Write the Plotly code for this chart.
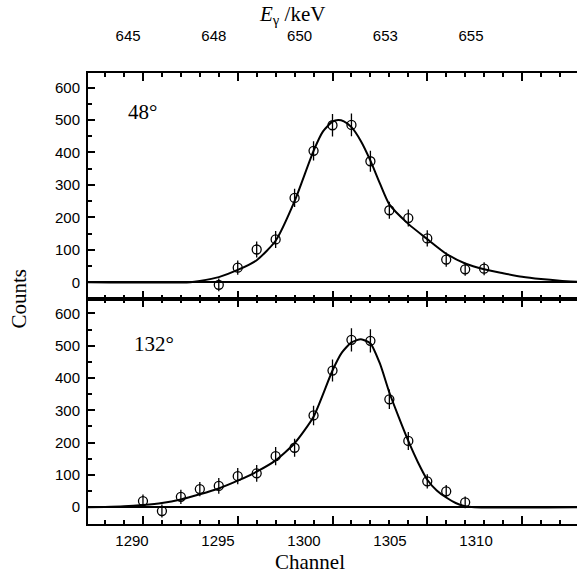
import plotly.graph_objects as go

# measured points, 48 degree detector (top panel)
ch48 = [1294, 1295, 1296, 1297, 1298, 1299, 1300, 1301, 1302, 1303, 1304, 1305, 1306, 1307, 1308]
cnt48 = [-8, 45, 101, 132, 260, 405, 484, 485, 373, 222, 198, 135, 70, 40, 42]
err48 = [20, 22, 25, 26, 28, 30, 35, 35, 32, 26, 26, 25, 22, 20, 20]

# fitted line shape, 48 degree
fit48_ch = [1287.1, 1292.5, 1293, 1294, 1295, 1296, 1297, 1298, 1299, 1299.5, 1300, 1300.3,
            1300.6, 1301, 1301.5, 1302, 1302.5, 1303, 1304, 1305, 1306, 1307, 1308, 1309,
            1310, 1311, 1312, 1312.9]
fit48 = [0, 0, 4, 16, 38, 68, 128, 250, 405, 465, 495, 500, 496, 478, 435, 375, 305, 240,
         180, 133, 88, 58, 40, 28, 17, 10, 5, 2]

# measured points, 132 degree detector (bottom panel)
ch132 = [1290, 1291, 1292, 1293, 1294, 1295, 1296, 1297, 1298, 1299, 1300, 1301, 1302,
         1303, 1304, 1305, 1306, 1307]
cnt132 = [19, -12, 32, 56, 66, 96, 105, 158, 184, 284, 423, 518, 515, 334, 205, 80, 49, 15]
err132 = [20, 20, 22, 22, 24, 25, 26, 28, 28, 30, 34, 36, 36, 30, 28, 22, 20, 18]

fit132_ch = [1287.1, 1288, 1289, 1290, 1291, 1292, 1293, 1294, 1295, 1296, 1297, 1298, 1299,
             1300, 1300.5, 1301, 1301.5, 1302, 1302.5, 1303, 1303.5, 1304, 1304.5, 1305,
             1305.5, 1306, 1306.5, 1307, 1307.5, 1312.9]
fit132 = [0, 1, 3, 7, 13, 24, 40, 58, 82, 110, 145, 198, 280, 423, 479, 510, 520, 507, 445,
          355, 278, 205, 140, 85, 52, 30, 13, 3, 0, 0]

channel_ticks = [1290, 1295, 1300, 1305, 1310]
energy_ticks = [645, 647.5, 650, 652.5, 655]
energy_labels = ['645', '648', '650', '653', '655']
count_ticks = [0, 100, 200, 300, 400, 500, 600]

SANS = 'Liberation Sans'
SERIF = 'Liberation Serif'

fig = go.Figure()

for ch, cnt, err, fx, fy, xa, ya in [(ch48, cnt48, err48, fit48_ch, fit48, 'x2', 'y'),
                                      (ch132, cnt132, err132, fit132_ch, fit132, 'x', 'y2')]:
    fig.add_trace(go.Scatter(x=fx, y=fy, mode='lines', line=dict(color='black', width=2, shape='spline', smoothing=0.6),
                             xaxis=xa, yaxis=ya, showlegend=False, hoverinfo='skip'))
    fig.add_trace(go.Scatter(x=ch, y=cnt, mode='markers',
                             marker=dict(symbol='circle-open', size=9, color='black', line=dict(width=1.3)),
                             error_y=dict(type='data', array=err, visible=True, thickness=1.3, width=0, color='black'),
                             xaxis=xa, yaxis=ya, showlegend=False))

# empty traces so the label axes get drawn
fig.add_trace(go.Scatter(x=[], y=[], xaxis='x3', yaxis='y2', showlegend=False))
fig.add_trace(go.Scatter(x=[], y=[], xaxis='x4', yaxis='y', showlegend=False))

xframe = dict(range=[1287.1, 1312.9], showline=True, linewidth=2, linecolor='black', mirror='ticks',
              ticks='inside', ticklen=8, tickwidth=1.5, tickcolor='black', tick0=1290, dtick=5,
              showticklabels=False, showgrid=False, zeroline=False, automargin=False,
              minor=dict(ticks='inside', ticklen=4, tickwidth=1.5, tickcolor='black', dtick=1, tick0=1290))
yframe = dict(showline=True, linewidth=2, linecolor='black', ticks='inside', ticklen=7, tickwidth=1.5,
              tickcolor='black', tickvals=count_ticks, showgrid=False, zeroline=True, zerolinecolor='black',
              zerolinewidth=1.5, tickfont=dict(family=SANS, size=15, color='black'), ticklabelstandoff=3,
              automargin=False,
              minor=dict(ticks='inside', ticklen=4, tickwidth=1.5, tickcolor='black', dtick=50, tick0=0))

fig.update_layout(
    width=577, height=578,
    margin=dict(l=88, r=0, t=73, b=54),
    paper_bgcolor='white', plot_bgcolor='white',
    xaxis=dict(**xframe, anchor='y2', domain=[0, 1]),
    xaxis2=dict(**xframe, anchor='y', domain=[0, 1], matches='x'),
    xaxis3=dict(overlaying='x', anchor='y2', side='bottom', range=[1287.44, 1315.87],
                tickvals=channel_ticks, showline=False, ticks='', showgrid=False, zeroline=False,
                automargin=False,
                tickfont=dict(family=SANS, size=15, color='black'), ticklabelstandoff=6),
    xaxis4=dict(overlaying='x2', anchor='y', side='top', range=[643.83, 658.09],
                tickvals=energy_ticks, ticktext=energy_labels, showline=False, ticks='',
                showgrid=False, zeroline=False, automargin=False,
                tickfont=dict(family=SANS, size=15, color='black'), ticklabelstandoff=28),
    yaxis=dict(**yframe, anchor='x2', domain=[0.5, 1], range=[-50, 645]),
    yaxis2=dict(**yframe, anchor='x', domain=[0, 0.5], range=[-52, 646]),
    annotations=[
        dict(text='48°', x=1290.0, y=525, xref='x2', yref='y', showarrow=False,
             xanchor='center', yanchor='middle', font=dict(family=SERIF, size=21, color='black')),
        dict(text='132°', x=1290.6, y=506, xref='x', yref='y2', showarrow=False,
             xanchor='center', yanchor='middle', font=dict(family=SERIF, size=21, color='black')),
        dict(text='Counts', x=-0.143, y=0.5, xref='paper', yref='paper', textangle=-90, showarrow=False,
             xanchor='center', yanchor='middle', font=dict(family=SERIF, size=21, color='black')),
        dict(text='Channel', x=0.454, y=-0.084, xref='paper', yref='paper', showarrow=False,
             xanchor='center', yanchor='middle', font=dict(family=SERIF, size=21, color='black')),
        dict(text='<i>E</i><sub>γ</sub> /keV', x=0.417, y=1.1286, xref='paper', yref='paper',
             showarrow=False, xanchor='center', yanchor='middle',
             font=dict(family=SERIF, size=21, color='black')),
    ],
)

fig.write_html('out.html', config={'displayModeBar': False},
               post_script="document.body.style.margin='0';")
